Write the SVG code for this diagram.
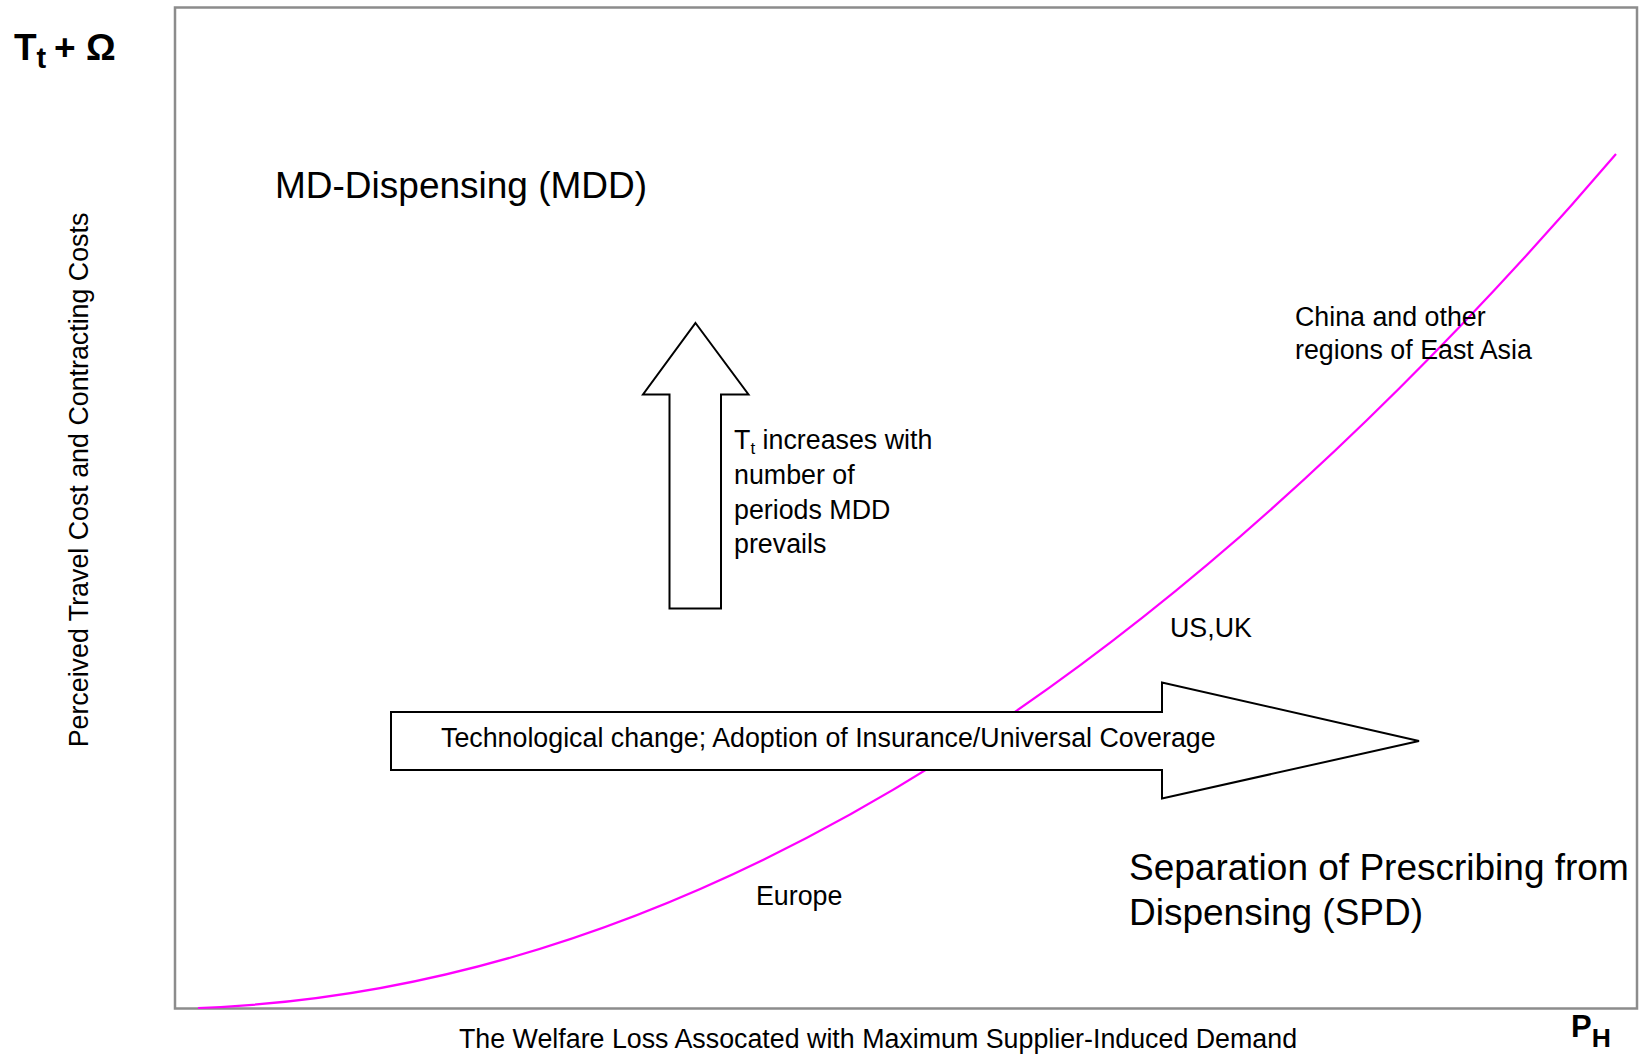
<svg xmlns="http://www.w3.org/2000/svg" width="1639" height="1055" viewBox="0 0 1639 1055">
<style>
text{font-family:"Liberation Sans",Arial,sans-serif;fill:#000}
.lbl{font-size:26.8px}
.big{font-size:37px}
.bold{font-weight:bold}
.arrow{fill:#fff;stroke:#000;stroke-width:2;stroke-linejoin:miter}
</style>
<rect width="1639" height="1055" fill="#fff"/>
<g id="frame">
<rect x="175" y="7.5" width="1462" height="1001" fill="none" stroke="#8c8c8c" stroke-width="2.5"/>
</g>
<g id="axis-labels">
<text class="big bold" x="14" y="60">T<tspan font-size="29" dy="8">t</tspan><tspan x="54" dy="-8">+</tspan><tspan x="86">Ω</tspan></text>
<text class="lbl" transform="translate(88,480) rotate(-90)" text-anchor="middle">Perceived Travel Cost and Contracting Costs</text>
<text class="lbl" x="459" y="1048">The Welfare Loss Assocated with Maximum Supplier-Induced Demand</text>
<text class="bold" x="1571" y="1037" font-size="31">P<tspan font-size="26.5" dy="10">H</tspan></text>
</g>
<g id="curve">
<path d="M198,1008 Q907,982 1616,154" fill="none" stroke="#ff00ff" stroke-width="2.2"/>
</g>
<g id="region-mdd">
<text class="big" x="275" y="198">MD-Dispensing (MDD)</text>
</g>
<g id="region-spd">
<text class="big" x="1129" y="880">Separation of Prescribing from</text>
<text class="big" x="1129" y="925">Dispensing (SPD)</text>
</g>
<g id="arrow-up">
<polygon class="arrow" points="695.5,323 748.5,394.5 721,394.5 721,608.5 669.5,608.5 669.5,394.5 643,394.5"/>
<text class="lbl" x="734" y="449">T<tspan font-size="17" dy="5">t</tspan><tspan dy="-5"> increases with</tspan></text>
<text class="lbl" x="734" y="484">number of</text>
<text class="lbl" x="734" y="518.5">periods MDD</text>
<text class="lbl" x="734" y="553">prevails</text>
</g>
<g id="arrow-right">
<polygon class="arrow" points="391,712 1162,712 1162,682.5 1419,741 1162,798.5 1162,770 391,770"/>
<text class="lbl" x="441" y="747">Technological change; Adoption of Insurance/Universal Coverage</text>
</g>
<g id="label-china">
<text class="lbl" x="1295" y="326">China and other</text>
<text class="lbl" x="1295" y="359">regions of East Asia</text>
</g>
<g id="label-usuk">
<text class="lbl" x="1170" y="637">US,UK</text>
</g>
<g id="label-europe">
<text class="lbl" x="756" y="905">Europe</text>
</g>
</svg>
